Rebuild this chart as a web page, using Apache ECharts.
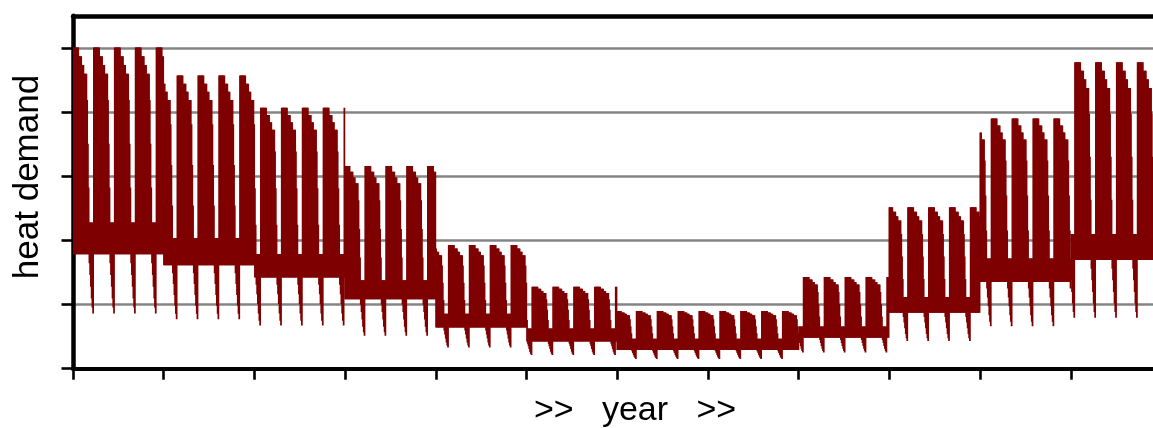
<!DOCTYPE html>
<html><head><meta charset="utf-8">
<script src="https://cdn.jsdelivr.net/npm/echarts@6/dist/echarts.min.js"></script>
<style>html,body{margin:0;padding:0;background:#fff}#c{width:1153px;height:428px}</style>
</head><body><div id="c"></div>
<script>
// Monthly levels (heat demand units, one gridline = 1)
const months   = ['Jan','Feb','Mar','Apr','May','Jun','Jul','Aug','Sep','Oct','Nov','Dec'];
const peak     = [5.00, 4.56, 4.06, 3.15, 1.92, 1.27, 0.89, 0.89, 1.42, 2.51, 3.89, 4.77];
const bandTop  = [2.27, 2.03, 1.78, 1.37, 0.85, 0.62, 0.46, 0.46, 0.65, 1.11, 1.71, 2.09];
const bandLow  = [1.79, 1.62, 1.43, 1.09, 0.65, 0.43, 0.30, 0.30, 0.49, 0.88, 1.36, 1.70];
const trough   = [0.87, 0.78, 0.68, 0.52, 0.34, 0.22, 0.16, 0.16, 0.26, 0.44, 0.67, 0.80];
// Weekly profile, one value per 6 h (28 per week)
// (1 = weekly peak, 0 = band top, -1 = band low, -2 = weekend trough)
const weekHigh = [1, 1, 1, 1, 1, 1, 1, 1, 0.95, 0.95, 0.95, 0.95, 0.9, 0.9,
                  0.9, 0.85, 0.85, 0.85, 0.85, 0.7, 0.45, 0.2, 0, 0, 0, 0, 0, 0];
const weekLow  = [-1, -1, -1, -1, -1, -1, -1, -1, -1, -1, -1, -1, -1, -1,
                  -1, -1, -1, -1, -1, -1, -1, -1, -1.15, -1.35, -1.55, -1.75, -1.9, -2];
const yTicks     = [0, 1, 2, 3, 4, 5];
const monthTicks = [0, 730, 1460, 2190, 2920, 3650, 4380, 5110, 5840, 6570, 7300, 8030];

const HOURS_MONTH = 730, HOURS_YEAR = 8760, STEP = 6, WEEK = 168;
function level(s, m) {
  if (s >= 0) return bandTop[m] + s * (peak[m] - bandTop[m]);
  if (s >= -1) return bandTop[m] + s * (bandTop[m] - bandLow[m]);
  return bandLow[m] + (s + 1) * (bandLow[m] - trough[m]);
}
// table: [hour, low value, high value] per 6-hour step
const rangeData = [];
for (let h = 0; h < HOURS_YEAR; h += STEP) {
  const m = Math.min(11, Math.floor(h / HOURS_MONTH));
  const k = (h % WEEK) / STEP;
  rangeData.push([h, level(weekLow[k], m), level(weekHigh[k], m)]);
}

const RED = '#7f0000';
const chart = echarts.init(document.getElementById('c'), null, {renderer: 'canvas'});
chart.setOption({
  animation: false,
  backgroundColor: '#fff',
  grid: {left: 73, top: 15.8, width: 1088.5, bottom: 59.3, containLabel: false, outerBoundsMode: 'none'},
  xAxis: [{
    type: 'value', min: 0, max: HOURS_YEAR, interval: HOURS_MONTH, position: 'bottom',
    axisLine: {show: true, onZero: false, lineStyle: {color: '#000', width: 4}},
    axisTick: {show: true, length: 11, customValues: monthTicks, lineStyle: {color: '#000', width: 2.6}},
    axisLabel: {show: false}, splitLine: {show: false}
  }, {
    type: 'value', min: 0, max: HOURS_YEAR, position: 'top',
    axisLine: {show: true, onZero: false, lineStyle: {color: '#000', width: 4.5}},
    axisTick: {show: false}, axisLabel: {show: false}, splitLine: {show: false}
  }],
  yAxis: {
    type: 'value', min: yTicks[0], max: 5.5, interval: 1,
    axisLine: {show: true, lineStyle: {color: '#000', width: 4.5}},
    axisTick: {show: true, length: 11.5, customValues: yTicks, lineStyle: {color: '#000', width: 2.6}},
    axisLabel: {show: false},
    splitLine: {show: true, lineStyle: {color: '#858585', width: 2.6}}
  },
  series: [{
    type: 'custom', data: rangeData, xAxisIndex: 0, clip: true,
    encode: {x: 0, y: [1, 2]},
    renderItem: function (params, api) {
      const h = api.value(0), lo = api.value(1), hi = api.value(2);
      const a = api.coord([h - STEP * 0.5, hi]);
      const b = api.coord([h + STEP * 0.5, lo]);
      return {
        type: 'rect',
        shape: {x: a[0] - 0.5, y: a[1] - 0.5, width: b[0] - a[0] + 1, height: b[1] - a[1] + 1},
        style: {fill: RED}
      };
    },
    z: 2
  }],
  graphic: [{
    type: 'text', x: 28, y: 177, rotation: Math.PI / 2,
    style: {text: 'heat demand', fontSize: 35, fontFamily: 'Liberation Sans, Arial, sans-serif', fill: '#000', align: 'center', verticalAlign: 'middle'}
  }, {
    type: 'text', x: 635, y: 411,
    style: {text: '>>   year   >>', fontSize: 34, fontFamily: 'Liberation Sans, Arial, sans-serif', fill: '#000', align: 'center', verticalAlign: 'middle'}
  }]
});
</script></body></html>
